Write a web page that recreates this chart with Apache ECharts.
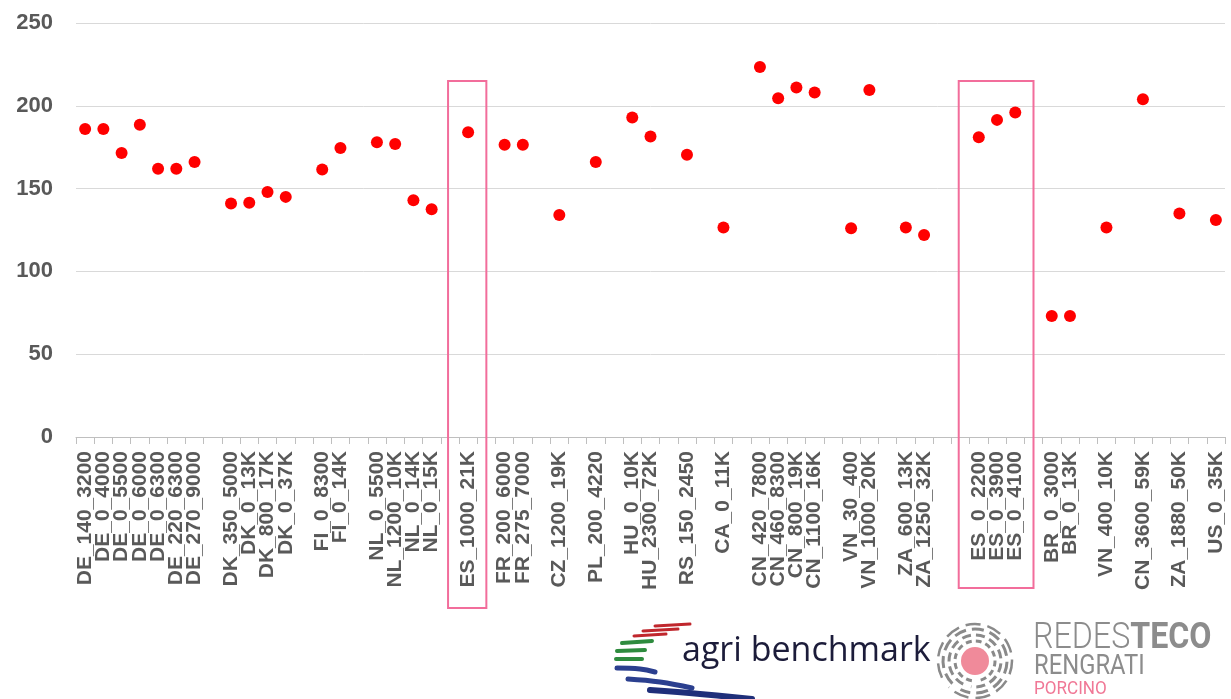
<!DOCTYPE html>
<html>
<head>
<meta charset="utf-8">
<script src="https://cdn.jsdelivr.net/npm/echarts@6/dist/echarts.min.js"></script>
<style>
html,body{margin:0;padding:0;background:#fff;}
#chart{width:1231px;height:699px;}
</style>
</head>
<body>
<div id="chart"></div>
<script>
const categories = ['DE_140_3200','DE_0_4000','DE_0_5500','DE_0_6000','DE_0_6300','DE_220_6300','DE_270_9000',' ',
  'DK_350_5000','DK_0_13K','DK_800_17K','DK_0_37K','  ',
  'FI_0_8300','FI_0_14K','   ',
  'NL_0_5500','NL_1200_10K','NL_0_14K','NL_0_15K','    ',
  'ES_1000_21K','     ',
  'FR_200_6000','FR_275_7000','      ',
  'CZ_1200_19K','       ',
  'PL_200_4220','        ',
  'HU_0_10K','HU_2300_72K','         ',
  'RS_150_2450','          ',
  'CA_0_11K','           ',
  'CN_420_7800','CN_460_8300','CN_800_19K','CN_1100_16K','            ',
  'VN_30_400','VN_1000_20K','             ',
  'ZA_600_13K','ZA_1250_32K','              ','               ',
  'ES_0_2200','ES_0_3900','ES_0_4100','                ',
  'BR_0_3000','BR_0_13K','                 ',
  'VN_400_10K','                  ',
  'CN_3600_59K','                   ',
  'ZA_1880_50K','                    ',
  'US_0_35K'];

const values = [186,186,171.5,188.5,162,162,166,null,
  141,141.5,148,145,null,
  161.5,174.5,null,
  178,177,143,137.5,null,
  184,null,
  176.5,176.5,null,
  134,null,
  166,null,
  193,181.5,null,
  170.5,null,
  126.5,null,
  223.5,204.5,211,208,null,
  126,209.5,null,
  126.5,122,null,null,
  181,191.5,196,null,
  73,73,null,
  126.5,null,
  204,null,
  135,null,
  131];

const yTicks = {min:0, max:250, interval:50};
const highlightGroups = [[21,21],[49,51]];

const chart = echarts.init(document.getElementById('chart'));
const labelColor = '#595959';
chart.setOption({
  animation:false,
  grid:{left:76,right:6,top:23,bottom:262},
  xAxis:{
    type:'category',
    data:categories,
    boundaryGap:true,
    axisLine:{show:true,lineStyle:{color:'#bfbfbf',width:1}},
    axisTick:{show:true,interval:0,length:7,lineStyle:{color:'#bfbfbf'}},
    axisLabel:{interval:0,rotate:90,margin:14,fontSize:21,fontWeight:'bold',color:labelColor,fontFamily:'Liberation Sans, Arial, sans-serif'},
    splitLine:{show:false}
  },
  yAxis:{
    type:'value',min:yTicks.min,max:yTicks.max,interval:yTicks.interval,
    axisLine:{show:false},axisTick:{show:false},
    axisLabel:{fontSize:22,fontWeight:'bold',color:labelColor,margin:23,fontFamily:'Liberation Sans, Arial, sans-serif'},
    splitLine:{lineStyle:{color:'#d9d9d9',width:1}}
  },
  series:[{
    type:'scatter',
    data:values,
    symbol:'circle',
    symbolSize:12,
    itemStyle:{color:'#ff0000',opacity:1}
  }]
});

function px(i){ return chart.convertToPixel({xAxisIndex:0}, i); }
const catW = px(1)-px(0);
const topY = chart.convertToPixel({yAxisIndex:0}, 215);
const baseY = chart.convertToPixel({yAxisIndex:0}, 0);
const boxBottoms = [171, 151];
const pink = '#f26d9b';
const graphics = [];
highlightGroups.forEach((g, k) => {
  const l = px(g[0]) - 1.1*catW;
  const r = px(g[1]) + 1.0*catW;
  graphics.push({type:'rect',silent:true,shape:{x:l,y:topY,width:r-l,height:baseY+boxBottoms[k]-topY},
    style:{fill:'none',stroke:pink,lineWidth:2},z:10});
});

// logos (decorative)
const stripes = [
  {c:'#c0272d',pts:[[655,626],[690,624]],w:3},
  {c:'#c0272d',pts:[[643,631],[678,629]],w:3},
  {c:'#c0272d',pts:[[634,636],[666,634]],w:3},
  {c:'#2e8b3e',pts:[[622,643],[652,641]],w:4},
  {c:'#2e8b3e',pts:[[617,651],[645,650]],w:4},
  {c:'#2e8b3e',pts:[[616,659],[642,659]],w:4},
  {c:'#2b3f8f',pts:[[617,668],[640,669],[655,672]],w:5},
  {c:'#2b3f8f',pts:[[628,679],[660,682],[692,688]],w:5},
  {c:'#1f2f7a',pts:[[650,690],[700,694],[752,699]],w:6}
];
stripes.forEach(s => graphics.push({type:'polyline',silent:true,shape:{points:s.pts,smooth:0.4},style:{stroke:s.c,lineWidth:s.w,lineCap:'round',fill:'none'}}));
graphics.push({type:'text',silent:true,left:682,top:634,style:{text:'agri benchmark',font:'normal 34px "Open Sans", "Noto Sans", sans-serif',fill:'#1c1c3a'}});
// circular icon
const cx = 975, cy = 661;
graphics.push({type:'circle',silent:true,shape:{cx:cx,cy:cy,r:14},style:{fill:'#f08a9a'}});
[[20,3,[6,4]],[26,3,[9,5]],[32,3,[12,6]],[37,2.5,[15,7]]].forEach((a,i) => {
  graphics.push({type:'arc',silent:true,shape:{cx:cx,cy:cy,r:a[0],startAngle:Math.PI*(0.55+0.1*i),endAngle:Math.PI*(2.45+0.1*i)},
    style:{stroke:'#8a8a8a',lineWidth:a[1],lineDash:a[2],fill:'none'}});
});
graphics.push({type:'text',silent:true,x:1033,y:620,scaleX:0.87,style:{
  text:'{a|REDES}{b|TECO}',
  rich:{a:{font:'300 37px Roboto, sans-serif',fill:'#8c8c8c'},b:{font:'bold 37px Roboto, sans-serif',fill:'#8c8c8c'}}}});
graphics.push({type:'text',silent:true,x:1034,y:653,scaleX:0.85,style:{text:'RENGRATI',font:'normal 28px Roboto, sans-serif',fill:'#8c8c8c'}});
graphics.push({type:'text',silent:true,x:1034,y:680,scaleX:0.9,style:{text:'PORCINO',font:'normal 19px Roboto, sans-serif',fill:'#f07896'}});
chart.setOption({graphic:graphics});
</script>
</body>
</html>
